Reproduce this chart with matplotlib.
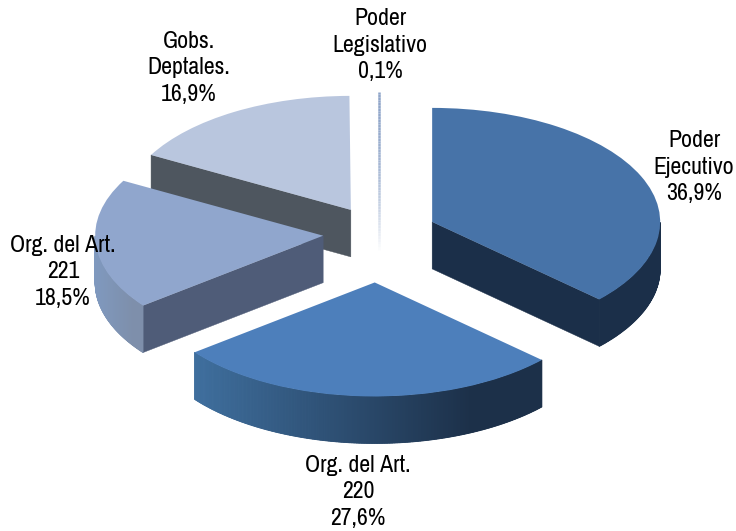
import numpy as np
import matplotlib.pyplot as plt
from matplotlib.collections import LineCollection
from matplotlib.colors import to_rgb

plt.rcParams['font.family'] = ['Archivo Narrow', 'Roboto Condensed', 'Liberation Sans', 'DejaVu Sans']

# data
names = ['Poder Ejecutivo', 'Org. del Art. 220', 'Org. del Art. 221', 'Gobs. Deptales.', 'Poder Legislativo']
shares = [36.9, 27.6, 18.5, 16.9, 0.1]
label_texts = ['Poder\nEjecutivo\n36,9%', 'Org. del Art.\n220\n27,6%', 'Org. del Art.\n221\n18,5%',
               'Gobs.\nDeptales.\n16,9%', 'Poder\nLegislativo\n0,1%']

# styles
explode = [58, 98, 56, 55, 56]
top_colors = ['#4773a8', '#4d7fbb', '#90a6cd', '#b9c6de', '#8fa5c9']
radial_colors = ['#1b2f49', '#1c3049', '#4f5c78', '#4e565f', '#8fa5c9']
wall_left = ['#1b2f49', '#40709f', '#7f99bf', '#4e565f', '#8fa5c9']
wall_right = ['#1b2f49', '#1c3049', '#7e8fab', '#4e565f', '#8fa5c9']
orders = [3, 4, 2, 1, 1]
label_x = [694, 358, 63, 189, 380]
label_y = [167, 492, 272, 68, 45]

W, H = 736, 531
RADIUS = 228
DEPTH = 47 * 2      # y data units are half a pixel
CENTER = (379, 2 * (H - 233.5))

fig = plt.figure(figsize=(W / 100, H / 100), dpi=100)
ax = fig.add_axes([0, 0, 1, 1])

wedges, _ = ax.pie(shares, explode=explode, startangle=90, counterclock=False,
                   center=CENTER, radius=RADIUS, wedgeprops={'linewidth': 0})
ax.set_aspect('auto')
ax.set_xlim(0, W)
ax.set_ylim(0, 2 * H)
ax.axis('off')


def rim(w, deg):
    a = np.radians(deg)
    return w.center[0] + w.r * np.cos(a), w.center[1] + w.r * np.sin(a)


for i, w in enumerate(wedges):
    w.set_facecolor(top_colors[i])
    w.set_zorder(orders[i] + 0.5)

    if shares[i] < 1:
        # the tiny slice fades out towards the bottom
        w.set_visible(False)
        x0, y0 = rim(w, (w.theta1 + w.theta2) / 2)
        ys = np.linspace(y0, w.center[1] - DEPTH, 60)
        segs = [[(x0 + 1, ys[k]), (x0 + 1, ys[k + 1])] for k in range(59)]
        base = np.array(to_rgb(top_colors[i]))
        cols = [base + (1 - base) * (k / 58) ** 2 for k in range(59)]
        ax.add_collection(LineCollection(segs, colors=cols, linewidths=1.8, zorder=orders[i]))
        continue

    cx, cy = w.center
    # radial side faces that look towards the viewer
    for deg, normal in [(w.theta1, w.theta1 - 90), (w.theta2, w.theta2 + 90)]:
        if np.sin(np.radians(normal)) < -1e-6:
            rx, ry = rim(w, deg)
            ax.fill([cx, rx, rx, cx], [cy, ry, ry - DEPTH, cy - DEPTH],
                    color=radial_colors[i], lw=0.3, zorder=orders[i])

    # outer wall, lower half of the ellipse only
    degs = np.linspace(w.theta1, w.theta2, 241)
    degs = degs[np.sin(np.radians(degs)) < 0]
    if len(degs) > 1:
        xs = cx + w.r * np.cos(np.radians(degs))
        ys = cy + w.r * np.sin(np.radians(degs))
        left, right = np.array(to_rgb(wall_left[i])), np.array(to_rgb(wall_right[i]))
        x_lo, x_hi = xs.min(), xs.max()
        # plain wall underneath so the strips leave no seams
        ax.fill(np.r_[xs, xs[::-1]], np.r_[ys, ys[::-1] - DEPTH],
                color=(left + right) / 2, lw=0, zorder=orders[i])
        order = np.argsort(xs)
        for a, b in zip(order[:-1], order[1:]):
            f = min(1, ((xs[a] + xs[b]) / 2 - x_lo) / (x_hi - x_lo) * 1.25)
            c = left + (right - left) * f
            ax.fill([xs[a], xs[b], xs[b], xs[a]],
                    [ys[a], ys[b], ys[b] - DEPTH, ys[a] - DEPTH],
                    color=c, lw=0.6, zorder=orders[i])

for i in range(len(names)):
    ax.text(label_x[i], 2 * (H - label_y[i]), label_texts[i], fontsize=17.2, color='black',
            ha='center', va='center', linespacing=1.3, zorder=10)

fig.savefig('out.png', dpi=100, facecolor='white')
